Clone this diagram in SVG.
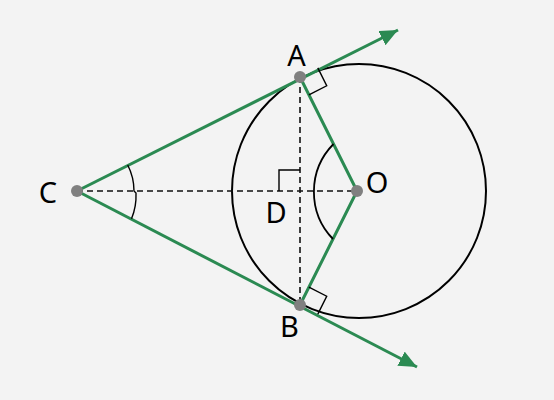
<svg xmlns="http://www.w3.org/2000/svg" width="554" height="400" viewBox="0 0 554 400">
<style>
.g{stroke:#2b8a52;stroke-width:3;fill:none;stroke-linecap:round}
.ga{stroke:#2b8a52;stroke-width:3;fill:none;stroke-linecap:butt}
.d{stroke:#111;stroke-width:1.6;stroke-dasharray:6 4;fill:none}
.k{stroke:#000;fill:none}
.dot{fill:#808080}
.lbl{font-family:"Noto Sans","Open Sans",sans-serif;font-size:29px;fill:#000;text-anchor:middle}
</style>
<defs>
<marker id="arr" markerUnits="userSpaceOnUse" markerWidth="20" markerHeight="18" refX="18" refY="8" orient="auto">
<path d="M0,0 L18,8 L0,16 Z" fill="#2b8a52"/>
</marker>
</defs>
<rect width="554" height="400" fill="#f3f3f3"/>
<g id="circle">
<circle cx="359" cy="191" r="127" class="k" stroke-width="2"/>
</g>
<g id="connectors">
<line x1="77" y1="191" x2="357" y2="191" class="d"/>
<line x1="300" y1="77" x2="300" y2="305" class="d"/>
<line x1="77" y1="191" x2="398" y2="30" class="ga" marker-end="url(#arr)"/>
<line x1="77" y1="191" x2="417" y2="367" class="ga" marker-end="url(#arr)"/>
<line x1="300" y1="77" x2="357" y2="191" class="g"/>
<line x1="300" y1="305" x2="357" y2="191" class="g"/>
<polyline points="317.8,67.9 326.7,85.8 308.9,94.9" class="k" stroke-width="1.4"/>
<polyline points="308.9,287.1 326.7,296.2 317.8,314.1" class="k" stroke-width="1.4"/>
<polyline points="279,191 279,170 300,170" class="k" stroke-width="1.4"/>
<path d="M333.5,144 A68,68 0 0 0 333,239" class="k" stroke-width="1.8"/>
<path d="M127.7,165 A57,57 0 0 1 134,191 L136,193 A61,61 0 0 1 131.5,218.8" class="k" stroke-width="1.4"/>
</g>
<g id="node-A"><circle cx="300" cy="77" r="6" class="dot"/><text x="296.5" y="66" class="lbl">A</text></g>
<g id="node-B"><circle cx="300" cy="305" r="6" class="dot"/><text x="289.5" y="337" class="lbl">B</text></g>
<g id="node-C"><circle cx="77" cy="191" r="6" class="dot"/><text x="48" y="203" class="lbl">C</text></g>
<g id="node-O"><circle cx="357" cy="191" r="6" class="dot"/><text x="377" y="193" class="lbl">O</text></g>
<g id="node-D"><text x="276" y="223" class="lbl">D</text></g>
</svg>
